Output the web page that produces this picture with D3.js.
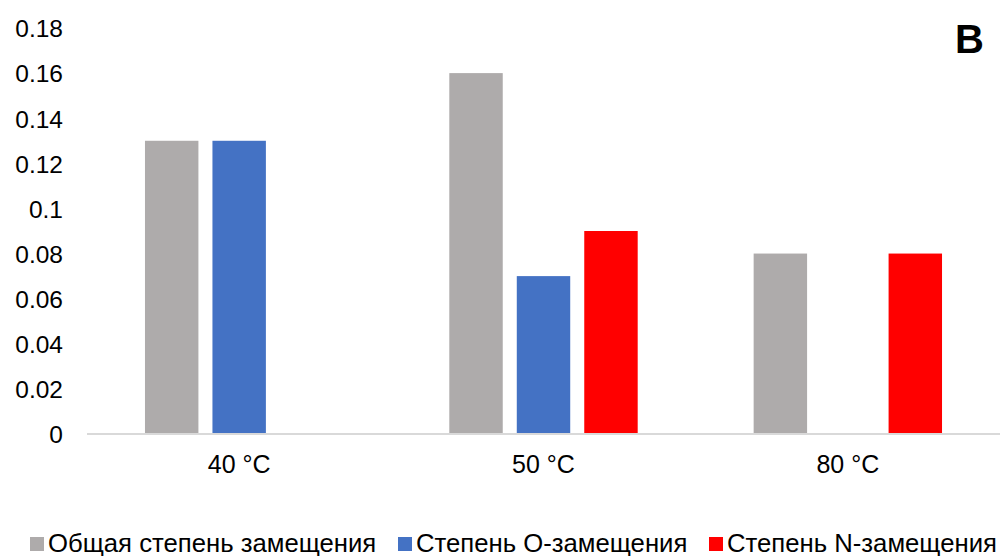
<!DOCTYPE html>
<html>
<head>
<meta charset="utf-8">
<script src="https://cdn.jsdelivr.net/npm/d3@7"></script>
<style>
  html, body { margin: 0; padding: 0; background: #fff; }
  svg { display: block; font-family: "Liberation Sans", Arial, sans-serif; }
</style>
</head>
<body>
<svg id="chart" width="1004" height="556"></svg>
<script>
// Degree of substitution by temperature
const categories = ["40 °C", "50 °C", "80 °C"];
const seriesNames = ["Общая степень замещения", "Степень O-замещения", "Степень N-замещения"];
const seriesColors = ["#AEABAB", "#4472C4", "#FF0000"];
const totalDS = [0.13, 0.16, 0.08];
const oDS = [0.13, 0.07, null];
const nDS = [null, 0.09, 0.08];
const yTicks = [0, 0.02, 0.04, 0.06, 0.08, 0.1, 0.12, 0.14, 0.16, 0.18];

const seriesValues = [totalDS, oDS, nDS];

const svg = d3.select("#chart");
const plot = { left: 87, right: 1000, top: 28, bottom: 434 };

const y = d3.scaleLinear().domain([0, 0.18]).range([plot.bottom, plot.top]);

const groupPad = 0.381;
const x0 = d3.scaleBand()
  .domain(categories)
  .range([plot.left, plot.right])
  .paddingInner(groupPad)
  .paddingOuter(groupPad / 2);

const x1 = d3.scaleBand()
  .domain(seriesNames)
  .range([0, x0.bandwidth()])
  .paddingInner(0.208)
  .paddingOuter(0);

// y axis labels (no line, no ticks)
const yAxis = d3.axisLeft(y)
  .tickValues(yTicks)
  .tickFormat(d => d === 0 ? "0" : String(+d.toFixed(2)))
  .tickSize(0)
  .tickPadding(0);
const yG = svg.append("g")
  .attr("transform", `translate(63,0)`)
  .call(yAxis);
yG.select(".domain").remove();
yG.attr("font-size", null).attr("font-family", null);
yG.selectAll("text")
  .attr("font-size", 24.5)
  .attr("fill", "#000")
  .attr("dy", "0.36em");

// bars
const rows = categories.map((c, i) => ({
  cat: c,
  vals: seriesNames.map((s, j) => ({ s, j, v: seriesValues[j][i] })).filter(d => d.v != null)
}));

const groups = svg.append("g").selectAll("g")
  .data(rows)
  .join("g")
  .attr("transform", d => `translate(${x0(d.cat)},0)`);

groups.selectAll("rect")
  .data(d => d.vals)
  .join("rect")
  .attr("x", d => x1(d.s))
  .attr("y", d => y(d.v))
  .attr("width", x1.bandwidth())
  .attr("height", d => y(0) - y(d.v))
  .attr("fill", d => seriesColors[d.j]);

// baseline + category axis
const xAxis = d3.axisBottom(x0).tickSize(0).tickPadding(0);
const xG = svg.append("g")
  .attr("transform", `translate(0,${plot.bottom})`)
  .call(xAxis);
xG.attr("font-size", null).attr("font-family", null);
xG.select(".domain")
  .attr("stroke", "#D9D9D9")
  .attr("stroke-width", 2)
  .attr("d", `M${plot.left},0H${plot.right}`);
xG.selectAll("text")
  .attr("font-size", 25)
  .attr("fill", "#000")
  .attr("dy", null)
  .attr("y", 39);

// panel letter
svg.append("text")
  .attr("x", 984)
  .attr("y", 53)
  .attr("text-anchor", "end")
  .attr("font-size", 40)
  .attr("font-weight", "bold")
  .attr("fill", "#000")
  .text("B");

// legend
const legendX = [30, 398, 709];
const legend = svg.append("g").selectAll("g")
  .data(seriesNames)
  .join("g")
  .attr("transform", (d, i) => `translate(${legendX[i]},0)`);
legend.append("rect")
  .attr("x", 0).attr("y", 537)
  .attr("width", 14).attr("height", 14)
  .attr("fill", (d, i) => seriesColors[i]);
legend.append("text")
  .attr("x", 18)
  .attr("y", 552)
  .attr("font-size", 25.7)
  .attr("fill", "#000")
  .text(d => d);
</script>
</body>
</html>
